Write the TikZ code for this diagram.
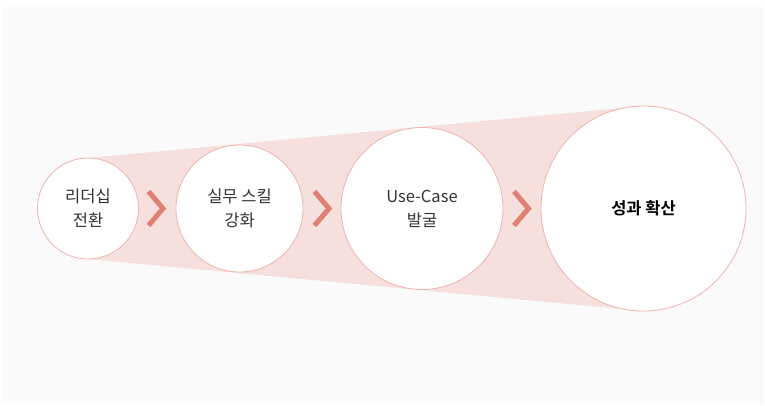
\documentclass[tikz,border=0pt]{standalone}
\usepackage{fontspec}
\setmainfont{Noto Sans CJK KR}
\newfontfamily\krbold{Noto Sans CJK KR Bold}
\begin{document}
\begin{tikzpicture}[x=1pt,y=-1pt,
  stage/.style={circle,draw=circleline,line width=0.8pt,fill=white,inner sep=0pt,
    align=center,font=\fontsize{16.5}{24}\selectfont,text=txtgray},
  chev/.style={draw=chevcol,line width=5pt,line join=miter,miter limit=10}]
\definecolor{bggray}{HTML}{FAFAFA}
\definecolor{wedge}{HTML}{F6E0DD}
\definecolor{circleline}{HTML}{EEB4AA}
\definecolor{chevcol}{HTML}{E08074}
\definecolor{txtgray}{HTML}{333333}
\useasboundingbox (0,0) rectangle (765,405);
\fill[white] (0,0) rectangle (765,405);
\fill[bggray] (2,7) rectangle (764,403);
% tangent points of the funnel
\coordinate (w1t) at (88,158);
\coordinate (w4t) at (643.5,106);
\coordinate (w4b) at (643.5,311);
\coordinate (w1b) at (88,259);
\fill[wedge] (w1t) -- (w4t) -- (w4b) -- (w1b) -- cycle;
\node[stage,minimum size=101pt] (s1) at (88,208.5) {리더십\\전환};
\node[stage,minimum size=127pt] (s2) at (239.5,208.5) {실무 스킬\\강화};
\node[stage,minimum size=162pt] (s3) at (422,208.5) {Use-Case\\발굴};
\node[stage,minimum size=205pt,text=black] (s4) at (643.5,208.5) {\krbold 성과 확산};
% chevrons
\coordinate (c1a) at (148.5,191.5);
\coordinate (c1b) at (163,208.5);
\coordinate (c1c) at (148.5,225.5);
\draw[chev] (c1a) -- (c1b) -- (c1c);
\coordinate (c2a) at (314.5,191.5);
\coordinate (c2b) at (329,208.5);
\coordinate (c2c) at (314.5,225.5);
\draw[chev] (c2a) -- (c2b) -- (c2c);
\coordinate (c3a) at (514,191.5);
\coordinate (c3b) at (528.5,208.5);
\coordinate (c3c) at (514,225.5);
\draw[chev] (c3a) -- (c3b) -- (c3c);
\end{tikzpicture}
\end{document}
